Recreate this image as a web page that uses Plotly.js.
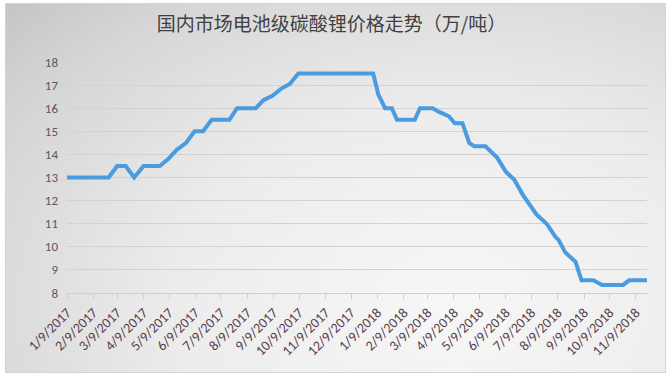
<!DOCTYPE html>
<html>
<head>
<meta charset="utf-8">
<script src="https://cdn.plot.ly/plotly-3.0.1.min.js"></script>
<style>
  html, body { margin: 0; padding: 0; background: #ffffff; }
  #wrap { position: relative; width: 671px; height: 375px; }
  #frame {
    position: absolute; left: 5px; top: 3px; width: 659px; height: 368px;
    border: 1px solid #d4d4d4;
    background: radial-gradient(ellipse 95% 120% at 68% 82%, #f7f7f7 0%, #ececec 45%, #d6d6d6 80%, #c4c4c4 100%);
  }
  #chart { position: absolute; left: 0; top: 0; width: 671px; height: 375px; }
</style>
</head>
<body>
<div id="wrap">
  <div id="frame"></div>
  <div id="chart"></div>
</div>
<script>
// Battery-grade lithium carbonate, domestic price (10k CNY / tonne)
const dates = [
  '2017-01-09', '2017-02-27', '2017-03-09', '2017-03-19', '2017-03-29',
  '2017-04-09', '2017-04-28', '2017-05-08', '2017-05-18', '2017-05-29',
  '2017-06-08', '2017-06-18', '2017-06-28', '2017-07-19', '2017-07-28',
  '2017-08-19', '2017-08-28', '2017-09-08', '2017-09-18', '2017-09-28',
  '2017-10-08', '2018-01-04', '2018-01-10', '2018-01-18', '2018-01-26',
  '2018-02-01', '2018-02-22', '2018-02-28', '2018-03-15', '2018-03-22',
  '2018-04-03', '2018-04-10', '2018-04-19', '2018-04-27', '2018-05-03',
  '2018-05-16', '2018-05-30', '2018-06-09', '2018-06-19', '2018-06-29',
  '2018-07-15', '2018-07-27', '2018-08-06', '2018-08-10', '2018-08-18',
  '2018-08-30', '2018-09-06', '2018-09-20', '2018-09-30', '2018-10-25',
  '2018-11-01', '2018-11-22'
];
const prices = [
  13.0, 13.0, 13.5, 13.5, 13.0,
  13.5, 13.5, 13.8, 14.2, 14.5,
  15.0, 15.0, 15.5, 15.5, 16.0,
  16.0, 16.35, 16.55, 16.85, 17.05,
  17.5, 17.5, 16.6, 16.0, 16.0,
  15.5, 15.5, 16.0, 16.0, 15.85,
  15.65, 15.35, 15.35, 14.5, 14.35,
  14.35, 13.85, 13.25, 12.9, 12.25,
  11.4, 11.0, 10.45, 10.3, 9.75,
  9.35, 8.55, 8.55, 8.35, 8.35,
  8.55, 8.55
];

// Monthly tick positions and their labels
const tickDates = [
  '2017-01-09', '2017-02-09', '2017-03-09', '2017-04-09', '2017-05-09', '2017-06-09',
  '2017-07-09', '2017-08-09', '2017-09-09', '2017-10-09', '2017-11-09', '2017-12-09',
  '2018-01-09', '2018-02-09', '2018-03-09', '2018-04-09', '2018-05-09', '2018-06-09',
  '2018-07-09', '2018-08-09', '2018-09-09', '2018-10-09', '2018-11-09'
];
const tickLabels = [
  '1/9/2017', '2/9/2017', '3/9/2017', '4/9/2017', '5/9/2017', '6/9/2017',
  '7/9/2017', '8/9/2017', '9/9/2017', '10/9/2017', '11/9/2017', '12/9/2017',
  '1/9/2018', '2/9/2018', '3/9/2018', '4/9/2018', '5/9/2018', '6/9/2018',
  '7/9/2018', '8/9/2018', '9/9/2018', '10/9/2018', '11/9/2018'
];
const yTicks = [8, 9, 10, 11, 12, 13, 14, 15, 16, 17, 18];

const trace = {
  x: dates,
  y: prices,
  type: 'scatter',
  mode: 'lines',
  line: { color: '#4a9be0', width: 4 },
  hoverinfo: 'x+y'
};

const layout = {
  width: 671,
  height: 375,
  margin: { l: 67, r: 24, t: 62, b: 82 },
  paper_bgcolor: 'rgba(0,0,0,0)',
  plot_bgcolor: 'rgba(0,0,0,0)',
  showlegend: false,
  title: {
    text: '国内市场电池级碳酸锂价格走势（万/吨）',
    x: 0.494, xanchor: 'center',
    y: 0.935, yanchor: 'middle',
    font: { family: '"Noto Sans CJK SC", sans-serif', size: 19, color: '#404040' }
  },
  xaxis: {
    type: 'date',
    range: ['2017-01-09', '2018-11-22'],
    tickmode: 'array',
    tickvals: tickDates,
    ticktext: tickLabels,
    tickangle: -45,
    ticks: 'outside',
    ticklen: 5,
    tickcolor: '#cfcfcf',
    showgrid: false,
    showline: true,
    linecolor: '#cfcfcf',
    linewidth: 1,
    zeroline: false,
    tickfont: { family: 'Carlito, "Liberation Sans", sans-serif', size: 14, color: '#56404f' }
  },
  yaxis: {
    range: [8, 18],
    tickmode: 'array',
    tickvals: yTicks,
    ticks: '',
    showgrid: true,
    gridcolor: '#d2d2d2',
    gridwidth: 1,
    zeroline: false,
    showline: false,
    ticklabelstandoff: 8,
    tickfont: { family: 'Carlito, "Liberation Sans", sans-serif', size: 13, color: '#595959' }
  }
};

Plotly.newPlot('chart', [trace], layout, { displayModeBar: false, staticPlot: true });
</script>
</body>
</html>
